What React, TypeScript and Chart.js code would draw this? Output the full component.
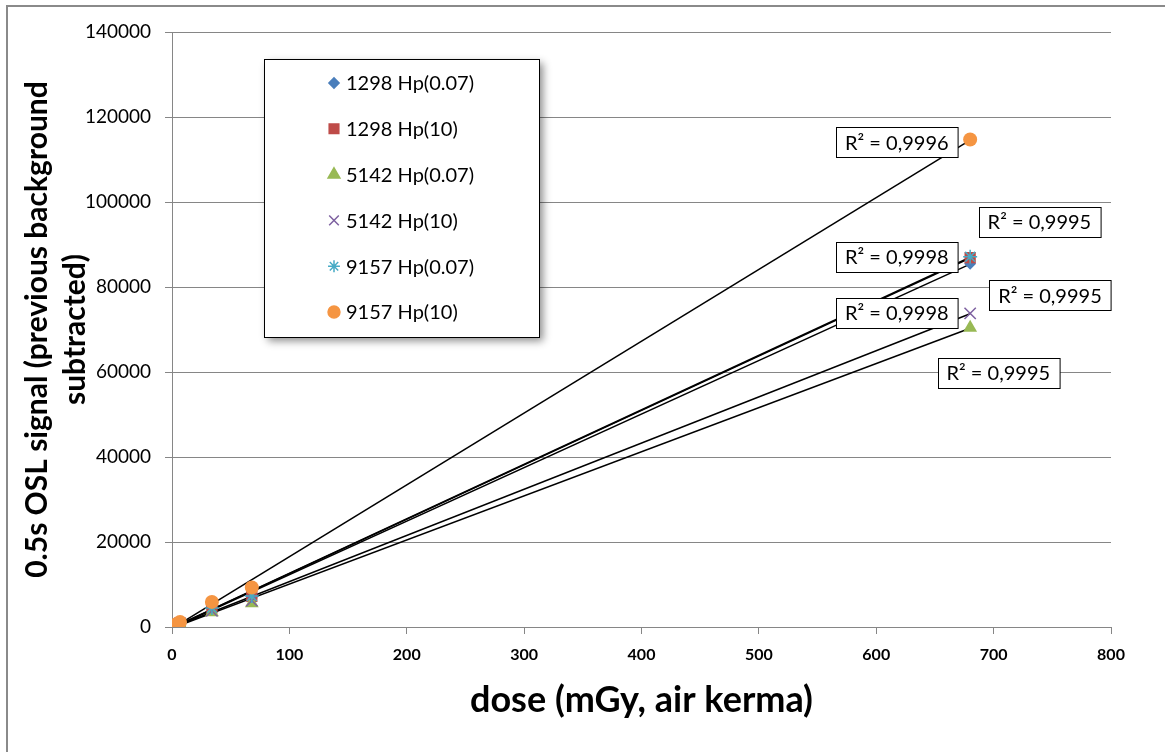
import React, { useEffect, useRef } from 'react';
import { Chart, registerables } from 'chart.js';
import { drawPoint } from 'chart.js/helpers';

Chart.register(...registerables);

// ---- data ----
const doses = [0.68, 3.4, 6.8, 34, 68, 680];
const seriesNames = ['1298 Hp(0.07)', '1298 Hp(10)', '5142 Hp(0.07)', '5142 Hp(10)', '9157 Hp(0.07)', '9157 Hp(10)'];
const s1298Hp007 = [90, 450, 900, 4300, 6900, 85500];
const s1298Hp10 = [95, 470, 950, 4500, 7200, 86900];
const s5142Hp007 = [70, 340, 700, 3500, 5600, 70400];
const s5142Hp10 = [75, 370, 760, 3800, 6200, 73800];
const s9157Hp007 = [95, 480, 960, 4500, 7300, 87100];
const s9157Hp10 = [120, 600, 1200, 5900, 9300, 114700];
const seriesValues = [s1298Hp007, s1298Hp10, s5142Hp007, s5142Hp10, s9157Hp007, s9157Hp10];

const r2Texts = ['R² = 0,9998', 'R² = 0,9995', 'R² = 0,9995', 'R² = 0,9998', 'R² = 0,9995', 'R² = 0,9996'];
// label anchors in data units (dose, signal)
const r2AnchorX = [617.5, 739, 704, 617.5, 748, 617.5];
const r2AnchorY = [87060, 95300, 59760, 73900, 78100, 114100];

const xTickValues = [0, 100, 200, 300, 400, 500, 600, 700, 800];
const yTickValues = [0, 20000, 40000, 60000, 80000, 100000, 120000, 140000];
const xAxisTitle = 'dose (mGy, air kerma)';
const yAxisTitle = ['0.5s OSL signal (previous background', 'subtracted)'];

// ---- styles ----
const seriesColors = ['#4A7EBB', '#BE4B48', '#98B954', '#7D60A0', '#46AAC5', '#F59542'];
const pointStyles = ['rectRot', 'rect', 'triangle', 'crossRot', 'star', 'circle'];
const pointRadii = [6, 8, 8, 8, 7, 7];
const FONT = 'Lato, "Open Sans", "Liberation Sans", sans-serif';
const GRID = '#868686';

function linearFit(xs: number[], ys: number[]) {
  const n = xs.length;
  let sx = 0, sy = 0, sxx = 0, sxy = 0;
  for (let i = 0; i < n; i++) { sx += xs[i]; sy += ys[i]; sxx += xs[i] * xs[i]; sxy += xs[i] * ys[i]; }
  const b = (n * sxy - sx * sy) / (n * sxx - sx * sx);
  const a = (sy - b * sx) / n;
  return { a, b };
}

const decorPlugin = {
  id: 'decor',
  beforeDraw(chart: any) {
    const ctx = chart.ctx;
    ctx.save();
    ctx.fillStyle = '#ffffff';
    ctx.fillRect(0, 0, chart.width, chart.height);
    ctx.strokeStyle = '#8a8a8a';
    ctx.lineWidth = 2;
    ctx.strokeRect(7, 6, chart.width + 20, chart.height + 20);
    ctx.restore();
  },
  afterDatasetsDraw(chart: any) {
    const ctx = chart.ctx;
    const xs = chart.scales.x, ys = chart.scales.y;
    ctx.save();
    ctx.font = `20px ${FONT}`;
    ctx.textAlign = 'center';
    ctx.textBaseline = 'middle';
    r2Texts.forEach((t, i) => {
      const cx = xs.getPixelForValue(r2AnchorX[i]);
      const cy = ys.getPixelForValue(r2AnchorY[i]);
      const w = ctx.measureText(t).width + 18;
      const h = 30;
      const x0 = Math.round(cx - w / 2) + 0.5, y0 = Math.round(cy - h / 2) + 0.5;
      ctx.fillStyle = '#fff';
      ctx.fillRect(x0, y0, w, h);
      ctx.strokeStyle = '#000';
      ctx.lineWidth = 1;
      ctx.strokeRect(x0, y0, w, h);
      ctx.fillStyle = '#000';
      ctx.fillText(t, cx, cy + 1);
    });
    ctx.restore();
  },
  afterDraw(chart: any) {
    const ctx = chart.ctx;
    const ca = chart.chartArea;
    ctx.save();
    // x title
    ctx.fillStyle = '#000';
    ctx.font = `bold 36px ${FONT}`;
    ctx.textAlign = 'center';
    ctx.textBaseline = 'middle';
    ctx.fillText(xAxisTitle, (ca.left + ca.right) / 2, 700);
    // y title
    ctx.font = `bold 30px ${FONT}`;
    const cy = (ca.top + ca.bottom) / 2;
    const lineXs = [37, 75];
    yAxisTitle.forEach((line, i) => {
      ctx.save();
      ctx.translate(lineXs[i], cy);
      ctx.rotate(-Math.PI / 2);
      ctx.fillText(line, 0, 0);
      ctx.restore();
    });
    // legend
    const lx = ca.left + 92, ly = ca.top + 27, lw = 275, lh = 278;
    ctx.save();
    ctx.shadowColor = 'rgba(0,0,0,0.45)';
    ctx.shadowBlur = 8;
    ctx.shadowOffsetX = 4;
    ctx.shadowOffsetY = 4;
    ctx.fillStyle = '#fff';
    ctx.fillRect(lx, ly, lw, lh);
    ctx.restore();
    ctx.strokeStyle = '#000';
    ctx.lineWidth = 1;
    ctx.strokeRect(lx + 0.5, ly + 0.5, lw, lh);
    ctx.font = `20px ${FONT}`;
    ctx.textAlign = 'left';
    ctx.textBaseline = 'middle';
    seriesNames.forEach((name, i) => {
      const y = ly + 24 + i * 45.8;
      const mx = lx + 70;
      ctx.fillStyle = seriesColors[i];
      ctx.strokeStyle = seriesColors[i];
      ctx.lineWidth = 1.5;
      drawPoint(ctx, { pointStyle: pointStyles[i], radius: pointRadii[i] * 0.85, rotation: 0, borderWidth: 1.5 } as any, mx, y);
      ctx.fillStyle = '#000';
      ctx.fillText(name, lx + 82, y + 1);
    });
    ctx.restore();
  },
};

export default function App() {
  const ref = useRef<HTMLCanvasElement | null>(null);
  useEffect(() => {
    document.body.style.margin = '0';
    if (!ref.current) return;
    const scatterSets = seriesValues.map((vals, i) => ({
      type: 'scatter' as const,
      label: seriesNames[i],
      data: doses.map((d, j) => ({ x: d, y: vals[j] })),
      backgroundColor: seriesColors[i],
      borderColor: seriesColors[i],
      borderWidth: pointStyles[i] === 'crossRot' || pointStyles[i] === 'star' ? 1.5 : 0,
      pointStyle: pointStyles[i],
      pointRadius: pointRadii[i],
      showLine: false,
      order: 6 - i,
    }));
    const trendSets = seriesValues.map((vals) => {
      const { a, b } = linearFit(doses, vals);
      const x0 = Math.min(...doses), x1 = Math.max(...doses);
      return {
        type: 'scatter' as const,
        label: '',
        data: [{ x: x0, y: a + b * x0 }, { x: x1, y: a + b * x1 }],
        showLine: true,
        borderColor: '#000',
        borderWidth: 1.5,
        pointRadius: 0,
        fill: false,
        order: 100,
      };
    });
    const chart = new Chart(ref.current, {
      type: 'scatter',
      data: { datasets: [...scatterSets, ...trendSets] as any },
      options: {
        animation: false,
        responsive: false,
        devicePixelRatio: 1,
        layout: { padding: { left: 0, top: 32, right: 54, bottom: 0 } },
        plugins: { legend: { display: false }, tooltip: { enabled: false } },
        scales: {
          x: {
            type: 'linear',
            min: 0,
            max: 800,
            afterBuildTicks: (s: any) => { s.ticks = xTickValues.map((v) => ({ value: v })); },
            afterFit: (s: any) => { s.height = 125; },
            grid: { drawOnChartArea: false, drawTicks: true, tickLength: 7, color: GRID },
            border: { color: GRID, width: 1 },
            ticks: { color: '#000', font: { family: FONT, size: 16, weight: 'bold' }, padding: 11, maxRotation: 0 },
          },
          y: {
            type: 'linear',
            min: 0,
            max: 140000,
            afterBuildTicks: (s: any) => { s.ticks = yTickValues.map((v) => ({ value: v })); },
            afterFit: (s: any) => { s.width = 172; },
            grid: { color: GRID, tickLength: 7, drawTicks: true },
            border: { color: GRID, width: 1 },
            ticks: { color: '#000', font: { family: FONT, size: 19 }, padding: 14, callback: (v: any) => String(v) },
          },
        },
      },
      plugins: [decorPlugin],
    } as any);
    return () => chart.destroy();
  }, []);
  return (
    <div style={{ width: 1165, height: 752 }}>
      <canvas ref={ref} width={1165} height={752} style={{ display: 'block' }} />
    </div>
  );
}
